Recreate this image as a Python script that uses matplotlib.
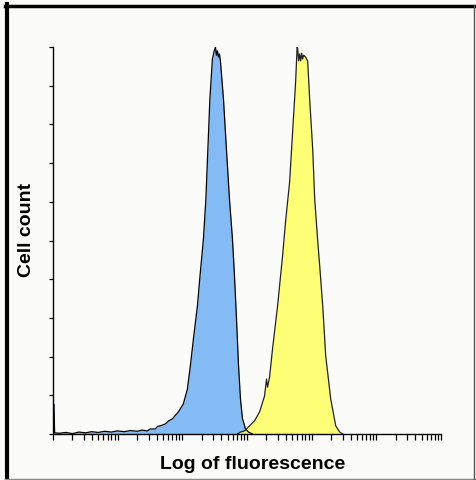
import numpy as np
import matplotlib
matplotlib.use("Agg")
import matplotlib.pyplot as plt
from matplotlib.lines import Line2D

# fluorescence channel (log10 units) and cell counts
blue_log = [0.0, 0.0, 0.015, 0.025, 0.1, 0.2, 0.3, 0.4, 0.5, 0.6, 0.7, 0.8,
            0.9, 1.0, 1.1, 1.2, 1.3, 1.38, 1.457, 1.504, 1.581, 1.62, 1.659,
            1.736, 1.79, 1.845, 1.938, 2.016, 2.078, 2.124, 2.171, 2.233,
            2.279, 2.326, 2.364, 2.395, 2.426, 2.465, 2.496, 2.512, 2.527,
            2.543, 2.558, 2.574, 2.589, 2.636, 2.682, 2.729, 2.775, 2.806,
            2.837, 2.868, 2.899, 2.930, 2.977, 3.023, 3.085]
blue_count = [0.0, 7.7, 7.7, 0.3, 0.2, 0.4, 0.1, 0.5, 0.3, 0.6, 0.4, 0.7,
              0.5, 0.8, 0.6, 0.9, 0.7, 1.0, 0.8, 1.3, 1.3, 2.0, 2.1,
              2.6, 3.4, 3.9, 5.7, 7.8, 11.6, 17.6, 24.5, 33.1,
              41.9, 50.4, 60.7, 73.6, 86.6, 96.9, 99.2, 100.0, 97.9,
              99.0, 97.4, 98.2, 96.4, 86.6, 73.6, 60.7, 50.4, 41.0,
              30.0, 18.0, 9.0, 4.0, 1.3, 0.5, 0.0]

yellow_log = [2.853, 2.899, 2.961, 3.039, 3.116, 3.194, 3.271, 3.302, 3.318,
              3.349, 3.395, 3.473, 3.550, 3.597, 3.659, 3.705, 3.752, 3.775,
              3.783, 3.798, 3.814, 3.829, 3.845, 3.860, 3.876, 3.907, 3.938,
              3.969, 4.016, 4.047, 4.093, 4.124, 4.171, 4.217, 4.295, 4.372,
              4.434, 4.481]
yellow_count = [0.0, 0.5, 0.8, 2.1, 3.4, 5.7, 9.8, 14.2, 12.1,
                14.7, 22.0, 33.1, 46.0, 55.0, 65.1, 78.0, 91.0, 100.0,
                99.7, 96.4, 98.2, 96.4, 98.4, 96.9, 97.9, 97.4, 96.4,
                86.6, 73.6, 60.7, 50.0, 43.5, 33.1, 20.2, 9.0, 2.1,
                0.5, 0.0]

y_ticks = np.arange(0, 101, 10)

bg = "#fbfcfa"
fig = plt.figure(figsize=(4.77, 4.81), dpi=100, facecolor=bg)
ax = fig.add_axes([53 / 477, 1 - 435 / 481, 388 / 477, 387 / 481])
ax.set_facecolor(bg)

bx = np.power(10.0, blue_log)
yx = np.power(10.0, yellow_log)
ax.fill_between(bx, blue_count, color="#85bbf5", lw=0)
ax.plot(bx, blue_count, color="black", lw=0.9)
ax.fill_between(yx, yellow_count, color="#ffff60", alpha=0.85, lw=0)
ax.plot(yx, yellow_count, color="#222222", lw=0.9)

ax.set_xscale("log")
ax.set_xlim(1, 1e6)
ax.set_ylim(0, 100)
ax.set_yticks(y_ticks)
ax.set_yticklabels([])
ax.xaxis.set_major_locator(matplotlib.ticker.LogLocator(base=10, numticks=10))
ax.xaxis.set_minor_locator(matplotlib.ticker.LogLocator(base=10, subs=np.arange(2, 10), numticks=20))
ax.xaxis.set_major_formatter(matplotlib.ticker.NullFormatter())
ax.xaxis.set_minor_formatter(matplotlib.ticker.NullFormatter())
ax.tick_params(axis="x", which="both", direction="out", length=4, width=0.9)
ax.tick_params(axis="y", direction="out", length=3, width=0.9)
for s in ["top", "right"]:
    ax.spines[s].set_visible(False)
for s in ["left", "bottom"]:
    ax.spines[s].set_linewidth(1.0)

fig.text(253 / 477, 1 - 465 / 481, "Log of fluorescence", ha="center", va="center",
         fontsize=14, fontweight="bold", family="Liberation Sans")
fig.text(27 / 477, 1 - 230 / 481, "Cell count", ha="center", va="center", rotation=90,
         fontsize=14, fontweight="bold", family="Liberation Sans")

# outer frame
fig.add_artist(Line2D([7 / 477, 7 / 477], [0, 1 - 5 / 481], color="black", lw=3, transform=fig.transFigure))
fig.add_artist(Line2D([5 / 477, 1], [1 - 6.5 / 481, 1 - 6.5 / 481], color="black", lw=2.5, transform=fig.transFigure))
fig.add_artist(Line2D([5 / 477, 1], [1.5 / 481, 1.5 / 481], color="#888888", lw=1, transform=fig.transFigure))
fig.add_artist(Line2D([474 / 477, 474 / 477], [0, 1 - 6 / 481], color="#555555", lw=1, transform=fig.transFigure))

fig.savefig("out.png", dpi=100, facecolor=bg)
